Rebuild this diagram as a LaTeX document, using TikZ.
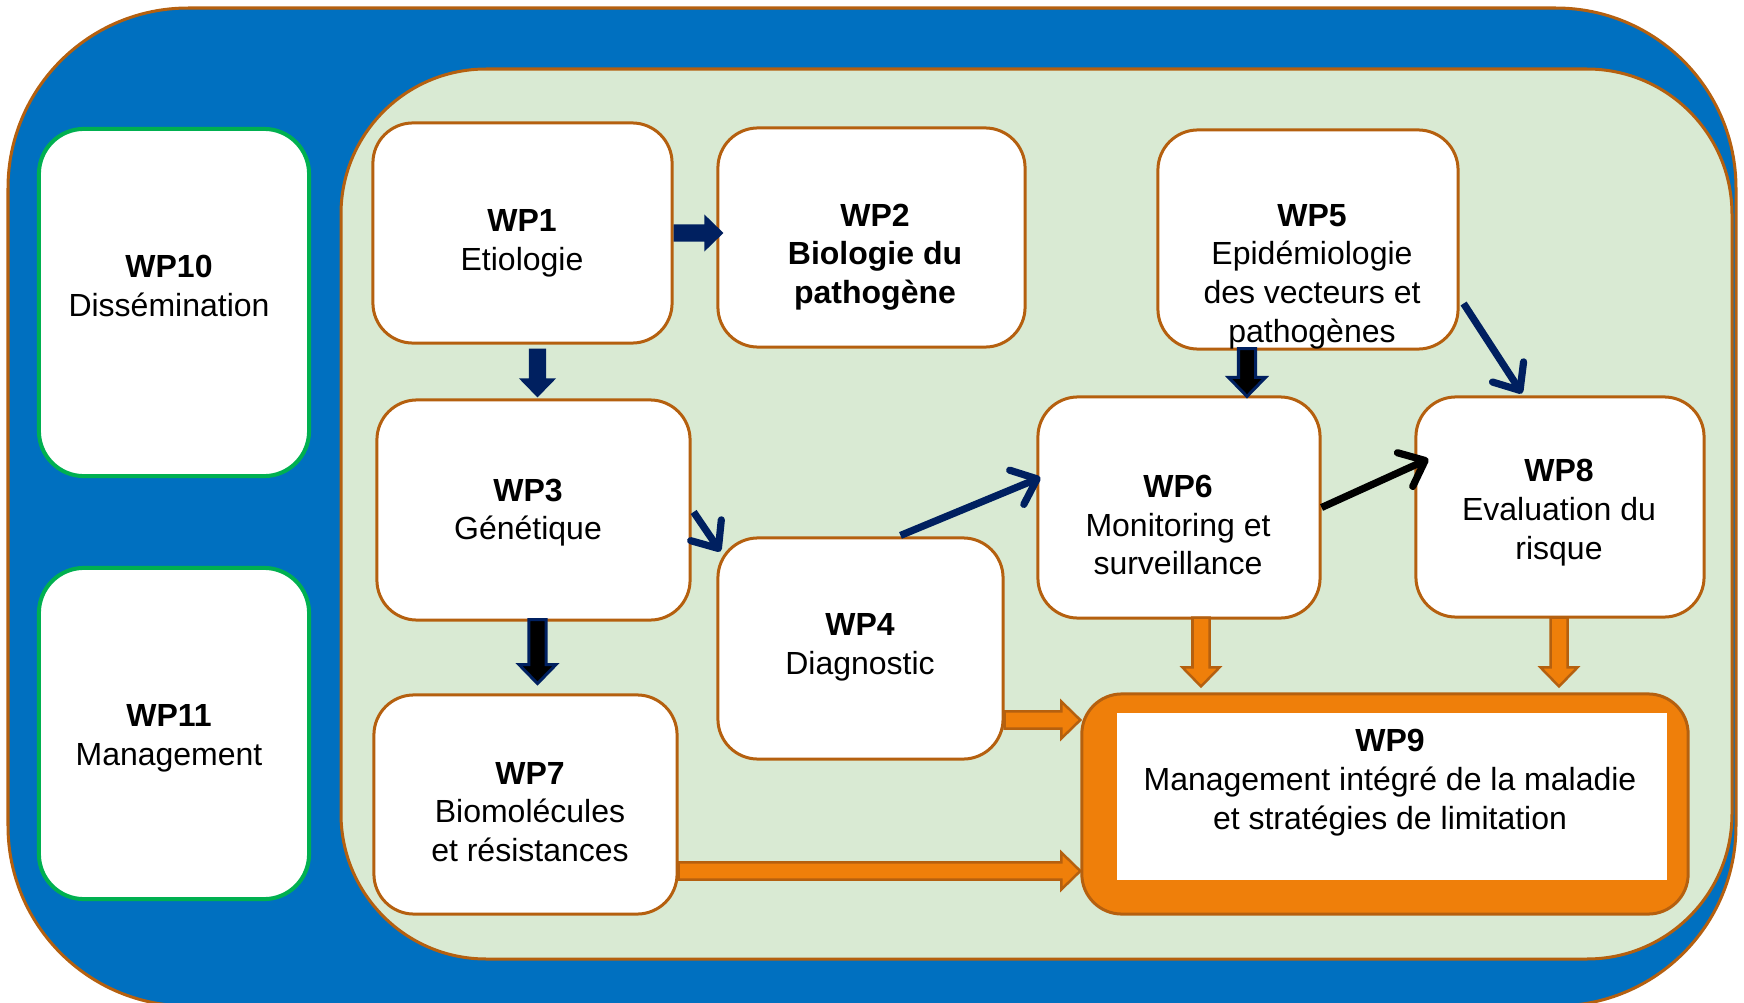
\documentclass[tikz,border=0pt]{standalone}
\usepackage{fontspec}
\setmainfont{Liberation Sans}
\usetikzlibrary{arrows.meta,calc}

\definecolor{bandblue}{HTML}{0070C0}
\definecolor{palegreen}{HTML}{D9EAD3}
\definecolor{rimbrown}{HTML}{B5600F}
\definecolor{boxgreen}{HTML}{00B050}
\definecolor{navy}{HTML}{002060}
\definecolor{wporange}{HTML}{EF7F0A}

\tikzset{
  wpbox/.style={draw=rimbrown, fill=white, line width=0.03cm, rounded corners=0.4cm, inner sep=0pt},
  sidebox/.style={draw=boxgreen, fill=white, line width=0.04cm, rounded corners=0.45cm, inner sep=0pt},
  lbl/.style={align=center, inner sep=0pt, font=\fontsize{9.1}{11}\selectfont},
  navyblock/.style={fill=navy},
  blackblock/.style={fill=black, draw=navy, line width=0.03cm},
  orangeblock/.style={fill=wporange, draw=rimbrown, line width=0.025cm},
  link/.style={line width=0.072cm, -{Straight Barb[round, length=0.22cm, width=0.37cm]}},
}

% block arrow, #2 = start, #3 = tip
\newcommand{\blockarrow}[3]{%
  \coordinate (ba-s) at (#2);
  \coordinate (ba-t) at (#3);
  \coordinate (ba-h) at ($(ba-t)!0.19cm!(ba-s)$);
  \path[#1] ($(ba-s)!0.085cm!90:(ba-t)$) -- ($(ba-h)!0.085cm!90:(ba-t)$)
    -- ($(ba-h)!0.185cm!90:(ba-t)$) -- (ba-t) -- ($(ba-h)!0.185cm!-90:(ba-t)$)
    -- ($(ba-h)!0.085cm!-90:(ba-t)$) -- ($(ba-s)!0.085cm!-90:(ba-t)$) -- cycle;}

\begin{document}
\begin{tikzpicture}[x=0.01cm, y=-0.01cm]
  \useasboundingbox (0,0) rectangle (1744,1003);
  \clip (0,0) rectangle (1744,1003);
  \draw[fill=bandblue, draw=rimbrown, line width=0.03cm, rounded corners=1.8cm] (8,8) rectangle (1736,1006);
  \draw[fill=palegreen, draw=rimbrown, line width=0.03cm, rounded corners=1.45cm] (341,69) rectangle (1732,959);

  % side boxes
  \node[sidebox, minimum width=2.70cm, minimum height=3.47cm] (wp10) at (174,302.5) {};
  \node[sidebox, minimum width=2.70cm, minimum height=3.31cm] (wp11) at (174,733.5) {};
  \node[lbl] (wp10-t) at (169,286) {\textbf{WP10}\\Dissémination};
  \node[lbl] (wp11-t) at (169,738.5) {\textbf{WP11}\\Management};

  % work packages
  \node[wpbox, minimum width=2.99cm, minimum height=2.20cm] (wp1) at (522.5,233) {};
  \node[wpbox, minimum width=3.07cm, minimum height=2.19cm] (wp2) at (871.5,237.5) {};
  \node[wpbox, minimum width=3.00cm, minimum height=2.19cm] (wp5) at (1308,239.5) {};
  \node[wpbox, minimum width=3.13cm, minimum height=2.20cm] (wp3) at (533.5,510) {};
  \node[wpbox, minimum width=2.85cm, minimum height=2.21cm] (wp4) at (860.5,648.5) {};
  \node[wpbox, minimum width=2.82cm, minimum height=2.21cm] (wp6) at (1179,507.5) {};
  \node[wpbox, minimum width=2.88cm, minimum height=2.20cm] (wp8) at (1560,507) {};
  \node[wpbox, minimum width=3.03cm, minimum height=2.19cm] (wp7) at (525.5,804.5) {};
  \node[wpbox, fill=wporange, minimum width=6.06cm, minimum height=2.20cm] (wp9) at (1385,804) {};
  \node[fill=white, inner sep=0pt, minimum width=5.50cm, minimum height=1.67cm] (wp9-in) at (1392,796.5) {};

  \node[lbl] (wp1-t) at (522,243.5) {\textbf{WP1}\\Etiologie};
  \node[lbl] (wp2-t) at (875,257) {\textbf{WP2}\\\textbf{Biologie du}\\\textbf{pathogène}};
  \node[lbl] (wp5-t) at (1312,276.5) {\textbf{WP5}\\Epidémiologie\\des vecteurs et\\pathogènes};
  \node[lbl] (wp3-t) at (528,512.5) {\textbf{WP3}\\Génétique};
  \node[lbl] (wp4-t) at (860,647.5) {\textbf{WP4}\\Diagnostic};
  \node[lbl] (wp6-t) at (1178,525) {\textbf{WP6}\\Monitoring et\\surveillance};
  \node[lbl] (wp8-t) at (1559,512.5) {\textbf{WP8}\\Evaluation du\\risque};
  \node[lbl] (wp7-t) at (530,812) {\textbf{WP7}\\Biomolécules\\et résistances};
  \node[lbl] (wp9-t) at (1390,782.5) {\textbf{WP9}\\Management intégré de la maladie\\et stratégies de limitation};

  % links
  \blockarrow{navyblock}{wp1.east}{$(wp2.west)+(7,-4.5)$}
  \blockarrow{navyblock}{$(wp1.south)+(15,4)$}{$(wp3.north)+(4,-1)$}
  \blockarrow{blackblock}{$(wp3.south)+(4,-2)$}{$(wp3.south)+(4,62)$}
  \blockarrow{blackblock}{$(wp5.south)+(-61,-2)$}{$(wp6.north)+(68,1)$}

  \draw[link, navy] ($(wp3.east)+(2,2)$) -- ($(wp4.north west)+(4,15)$);
  \draw[link, navy] ($(wp4.north)+(40,-1)$) -- ($(wp6.west)+(4,-30)$);
  \draw[link, black] (wp6.east) -- ($(wp8.west)+(14,-48)$);
  \draw[link, navy] ($(wp5.east)+(4,64)$) -- ($(wp8.north)+(-38,-2)$);

  \blockarrow{orangeblock}{$(wp4.east)+(0,71.5)$}{$(wp9.west)+(0,-84)$}
  \blockarrow{orangeblock}{$(wp7.east)+(0,66.5)$}{$(wp9.west)+(0,67)$}
  \blockarrow{orangeblock}{$(wp6.south)+(22,-2)$}{$(wp9.north)+(-184,-6)$}
  \blockarrow{orangeblock}{$(wp8.south)+(-1,-1)$}{$(wp9.north)+(174,-6)$}
\end{tikzpicture}
\end{document}
